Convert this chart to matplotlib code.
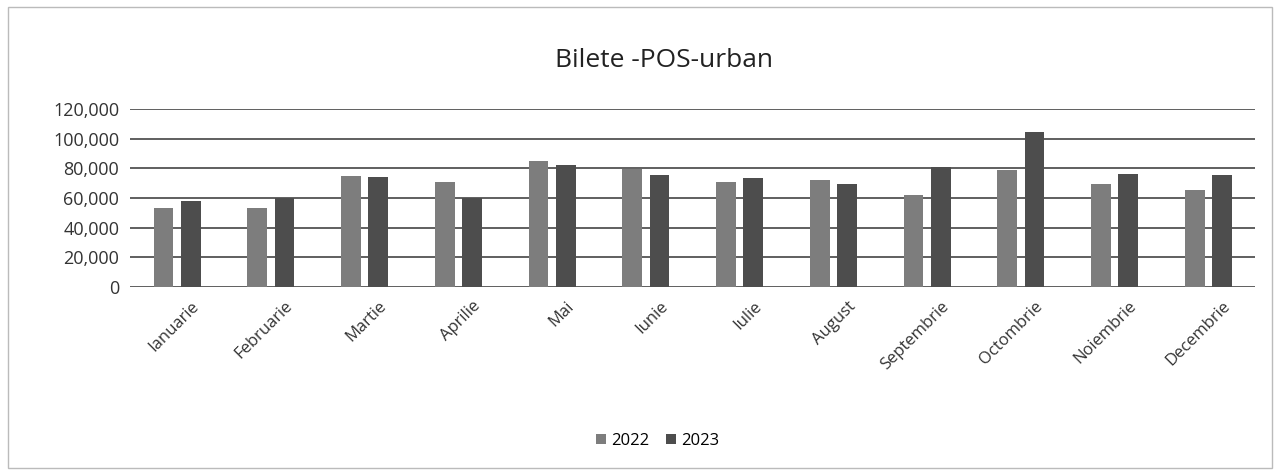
import matplotlib.pyplot as plt
import matplotlib.transforms as mtrans
import numpy as np

luni = ['Ianuarie', 'Februarie', 'Martie', 'Aprilie', 'Mai', 'Iunie', 'Iulie',
        'August', 'Septembrie', 'Octombrie', 'Noiembrie', 'Decembrie']
v2022 = [53000, 53500, 74500, 70400, 84600, 79500, 70900, 72200, 62000, 78500, 69500, 65500]
v2023 = [58200, 60300, 73800, 60000, 82400, 75200, 73100, 69500, 81000, 104500, 76300, 75600]

plt.rcParams['font.family'] = ['Open Sans', 'DejaVu Sans']

fig = plt.figure(figsize=(12.77, 4.73), dpi=100)
ax = fig.add_axes([0.102, 0.393, 0.881, 0.377])

x = np.arange(len(luni))
w = 0.21
ax.bar(x - 0.145, v2022, w, color='#7d7d7d', label='2022', zorder=3)
ax.bar(x + 0.145, v2023, w, color='#4d4d4d', label='2023', zorder=3)

ax.set_xlim(-0.5, 11.5)
ax.set_ylim(0, 120000)
ax.set_yticks(range(0, 120001, 20000))
ax.set_yticklabels([f'{v:,}' for v in range(0, 120001, 20000)], fontsize=13, color='#333333')
ax.set_xticks(x)
ax.set_xticklabels(luni, rotation=45, ha='right', rotation_mode='anchor', fontsize=12, color='#333333')
ax.tick_params(length=0, pad=8)
# Excel places the rotated labels a bit to the right of the group centre
off = mtrans.ScaledTranslation(0.14, 0, fig.dpi_scale_trans)
for lab in ax.get_xticklabels():
    lab.set_transform(lab.get_transform() + off)
ax.grid(axis='y', color='#444444', linewidth=1.2, zorder=0)
for s in ax.spines.values():
    s.set_visible(False)

fig.text(0.52, 0.872, 'Bilete -POS-urban', ha='center', va='center', fontsize=19, color='#222222')
fig.legend(loc='center', bbox_to_anchor=(0.515, 0.068), ncol=2, frameon=False, fontsize=12,
           handlelength=0.6, handleheight=0.6, handletextpad=0.3, columnspacing=1.0)

fig.patches.append(plt.Rectangle((0.006, 0.01), 0.99, 0.975, transform=fig.transFigure,
                                 fill=False, edgecolor='#bbbbbb', linewidth=1))
fig.savefig('out.png', dpi=100)
